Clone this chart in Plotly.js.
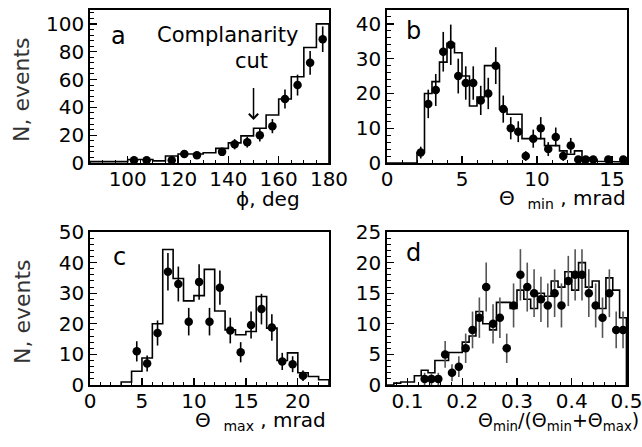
<!DOCTYPE html>
<html><head><meta charset="utf-8">
<script src="https://cdn.plot.ly/plotly-3.0.1.min.js"></script>
<style>html,body{margin:0;padding:0;background:#fff}#plot{width:642px;height:447px}</style>
</head><body><div id="plot"></div>
<script>
// ---------- Panel a : phi, deg ----------
const aPointX = [102.5,107.5,117.5,122.5,127.5,137.5,142.5,147.5,152.5,157.5,162.5,167.5,172.5,177.5];
const aPointY = [2,2,2,6.5,5.5,8,13.5,15,20,26.5,46,56,72,89];
const aPointErr = [1.4,1.4,1.4,2.5,2.3,2.8,3.7,3.9,4.5,5.1,6.8,7.5,8.5,9.2];
const aHistStart = 85, aHistWidth = 5;
const aHistY = [1,1,1,2.5,2.5,1.5,5,6.5,6.5,7.4,10.5,14.5,19.5,25,34.5,46,62,83,100];

// ---------- Panel b : Theta_min, mrad ----------
const bPointX = [2.25,2.75,3.25,3.75,4.25,4.75,5.25,5.75,6.25,6.75,7.25,7.75,8.25,8.75,9.25,9.75,10.25,10.75,11.25,11.75,12.25,12.75,13.25,13.75,14.75,15.75];
const bPointY = [3,17,21,32,34,25,23,23,18,20,28,15.5,10,9,2,7,10,4,7.5,2,5,1,1,1,1,1];
const bPointErr = [1.7,4.1,4.6,5.7,5.8,5,4.8,4.8,4.2,4.5,5.3,3.9,3.2,3,1.4,2.6,3.2,2,2.7,1.4,2.2,1,1,1,1,1];
const bHistStart = 0, bHistWidth = 0.5;
const bHistY = [0,0,0,0,3,20,23.4,29,34.4,31.7,25,16.4,19,28,28,15.5,14,14,7,7,7,5,5,3.5,2.5,3.5,1.5,1,0.5,0.5,0.3,0.3];

// ---------- Panel c : Theta_max, mrad ----------
const cPointX = [4.5,5.5,6.5,7.5,8.5,9.5,10.5,11.5,12.5,13.5,14.5,15.5,16.5,17.5,18.5,19.5,20.5];
const cPointY = [11,7,17,37,33,20.7,33.7,20.7,31.8,17.8,10.7,19.6,24.8,18.8,7.7,6.8,3];
const cPointErr = [3.3,2.6,4.1,6.1,5.7,4.5,5.8,4.5,5.6,4.2,3.3,4.4,5,4.3,2.8,2.6,1.7];
const cHistStart = 3, cHistWidth = 1;
const cHistY = [1,4.5,8.8,20,44.3,34.8,27.5,29.2,37.8,24.2,18,16.4,17.5,28.9,18.6,8,10.5,4,2.8,1.7];

// ---------- Panel d : Theta_min/(Theta_min+Theta_max) ----------
const dPointX = [0.13125,0.14375,0.15625,0.16875,0.18125,0.19375,0.20625,0.21875,0.23125,0.24375,0.25625,0.26875,0.28125,0.29375,0.30625,0.31875,0.33125,0.34375,0.35625,0.36875,0.38125,0.39375,0.40625,0.41875,0.43125,0.44375,0.45625,0.46875,0.48125,0.49375];
const dPointY = [1,1,1,5,2,3,6,9,11,16,10,11,6,13,18,16,15,14,13,15,13,17,18,18,15,13,11,15,9,9];
const dPointErr = [1,1,1,2.2,1.4,1.7,2.4,3,3.3,4,3.2,3.3,2.4,3.6,4.2,4,3.9,3.7,3.6,3.9,3.6,4.1,4.2,4.2,3.9,3.6,3.3,3.9,3,3];
const dHistStart = 0.0625, dHistWidth = 0.0125;
const dHistY = [0,0.3,0.5,0.5,1.5,2.4,2,4,4,5.3,5.3,7,8,12,10,9,13.5,13.5,12.5,15.5,14,12.5,15,14.5,17,16,18.5,15.5,20,16,17,12.5,17.5,15.5,11];

// ---------- helpers ----------
function steps(start, width, vals) {
  const xs = [start], ys = [0];
  vals.forEach((v, i) => { const l = start + i * width; xs.push(l, l + width); ys.push(v, v); });
  xs.push(start + vals.length * width); ys.push(0);
  return {xs, ys};
}
const FONT = 'DejaVu Sans';
function histTrace(start, width, vals, xa, ya) {
  const s = steps(start, width, vals);
  return {x: s.xs, y: s.ys, xaxis: xa, yaxis: ya, type: 'scatter', mode: 'lines',
          line: {color: '#000', width: 1.6, shape: 'linear'}, hoverinfo: 'skip', cliponaxis: true};
}
function pointTrace(xs, ys, errs, xa, ya, ecol) {
  return {x: xs, y: ys, xaxis: xa, yaxis: ya, type: 'scatter', mode: 'markers',
          marker: {color: '#000', size: 8.5},
          error_y: {type: 'data', array: errs, visible: true, width: 0, thickness: 1.6, color: ecol},
          cliponaxis: true};
}
function axis(domain, range, dtick, minor, anchor, isX) {
  const a = {domain, range, dtick, tick0: 0, anchor,
          ticks: 'inside', ticklen: 7, tickwidth: 1.3, tickcolor: '#000',
          minor: {ticks: 'inside', dtick: minor, ticklen: 3.5, tickwidth: 1, tickcolor: '#000'},
          showline: true, linecolor: '#000', linewidth: 1.8, mirror: true,
          showgrid: false, zeroline: false, ticklabeloverflow: 'allow',
          tickfont: {family: FONT, size: 20, color: '#000'}};
  if (isX) a.ticklabelstandoff = -3;
  return a;
}

const traces = [
  histTrace(aHistStart, aHistWidth, aHistY, 'x', 'y'),
  pointTrace(aPointX, aPointY, aPointErr, 'x', 'y', '#000'),
  histTrace(bHistStart, bHistWidth, bHistY, 'x2', 'y2'),
  pointTrace(bPointX, bPointY, bPointErr, 'x2', 'y2', '#000'),
  histTrace(cHistStart, cHistWidth, cHistY, 'x3', 'y3'),
  pointTrace(cPointX, cPointY, cPointErr, 'x3', 'y3', '#000'),
  histTrace(dHistStart, dHistWidth, dHistY, 'x4', 'y4'),
  pointTrace(dPointX, dPointY, dPointErr, 'x4', 'y4', '#555')
];

const W = 642, H = 447;
const xdL = [90 / W, 329 / W], xdR = [387 / W, 627 / W];
const ydT = [1 - 163 / H, 1 - 10 / H], ydB = [1 - 385 / H, 1 - 232 / H];

const tf = (size) => ({family: FONT, size: size, color: '#000'});
function pann(text, px, py, size, xanchor, extra) {
  return Object.assign({text, xref: 'paper', yref: 'paper', x: px / W, y: 1 - py / H,
    xanchor: xanchor || 'center', yanchor: 'middle', showarrow: false, font: tf(size)}, extra || {});
}
const nFont = {family: FONT, size: 22, color: '#333'};
const NB = '\u00a0';

const layout = {
  width: W, height: H, margin: {l: 0, r: 0, t: 0, b: 0},
  paper_bgcolor: '#fff', plot_bgcolor: '#fff', showlegend: false,
  xaxis: axis(xdL, [85, 180], 20, 5, 'y', true),
  yaxis: axis(ydT, [0, 110], 20, 4, 'x'),
  xaxis2: axis(xdR, [0, 16], 5, 1, 'y2', true),
  yaxis2: axis(ydT, [0, 44], 10, 2, 'x2'),
  xaxis3: axis(xdL, [0, 23], 5, 1, 'y3', true),
  yaxis3: axis(ydB, [0, 50], 10, 2, 'x3'),
  xaxis4: axis(xdR, [0.0625, 0.501], 0.1, 0.02, 'y4', true),
  yaxis4: axis(ydB, [0, 25], 5, 1, 'x4'),
  annotations: [
    pann('a', 118, 36, 24),
    pann('Complanarity', 227, 35, 21),
    pann('cut', 251, 61, 21),
    pann('b', 413, 31, 24),
    pann('c', 119, 257, 24),
    pann('d', 413, 253, 24),
    pann('N, events', 22, 90, 22, 'center', {textangle: -90, font: nFont}),
    pann('N, events', 22, 312, 22, 'center', {textangle: -90, font: nFont}),
    pann('ϕ, deg', 302, 199, 20, 'right'),
    pann('Θ' + NB + NB + '<sub>min</sub>' + NB + ', mrad', 628, 199, 20, 'right'),
    pann('Θ' + NB + NB + '<sub>max</sub>' + NB + ', mrad', 328, 421, 20, 'right'),
    pann('Θ<sub>min</sub>/(Θ<sub>min</sub>+Θ<sub>max</sub>)', 641, 421, 19, 'right'),
    {xref: 'x', yref: 'y', x: 150, y: 31, axref: 'x', ayref: 'y', ax: 150, ay: 55,
     showarrow: true, arrowhead: 4, arrowsize: 1.2, arrowwidth: 1.5, arrowcolor: '#000', text: ''}
  ]
};

Plotly.newPlot('plot', traces, layout, {staticPlot: true, displayModeBar: false});
</script>
</body></html>
